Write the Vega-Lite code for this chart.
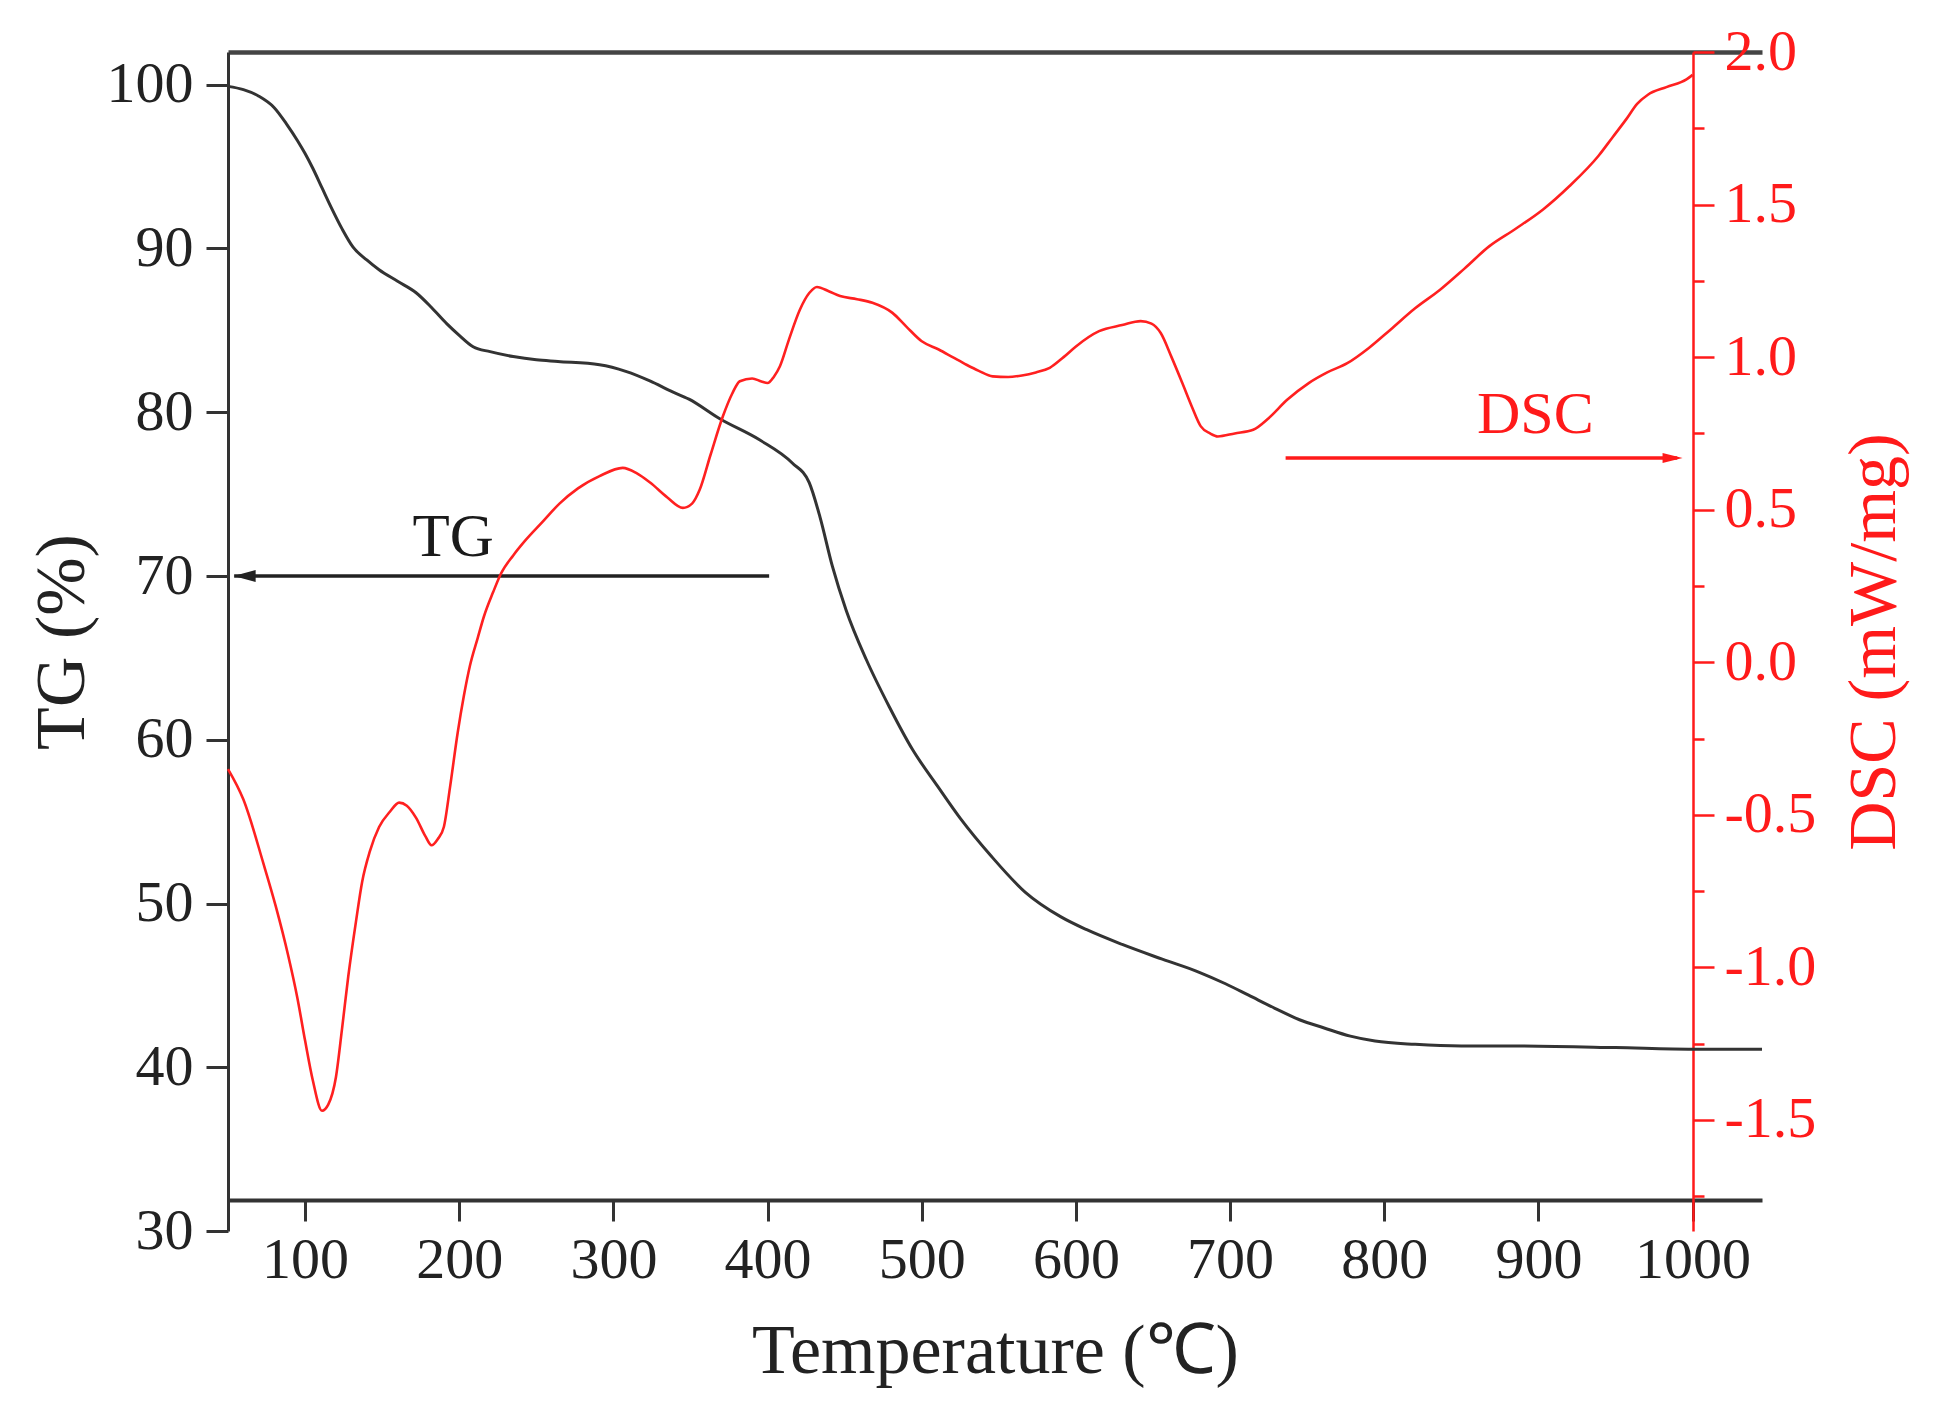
{
  "$schema": "https://vega.github.io/schema/vega-lite/v6.json",
  "autosize": {"type": "none"},
  "padding": {"left": 228, "top": 52, "right": 197, "bottom": 193},
  "width": 1534,
  "height": 1179,
  "background": "white",
  "config": {
    "view": {"stroke": null},
    "font": "Liberation Serif",
    "axis": {
      "grid": false,
      "labelFont": "Liberation Serif",
      "titleFont": "Liberation Serif",
      "titleFontWeight": "normal",
      "labelFlush": false,
      "labelOverlap": false,
      "labelBound": false
    }
  },
  "datasets": {
    "tg": [
      {"T": 50, "TG": 99.9}, {"T": 60, "TG": 99.7}, {"T": 70, "TG": 99.3}, {"T": 80, "TG": 98.6},
      {"T": 88, "TG": 97.6}, {"T": 95, "TG": 96.6}, {"T": 100, "TG": 95.8}, {"T": 105, "TG": 94.9},
      {"T": 111, "TG": 93.7}, {"T": 117, "TG": 92.5}, {"T": 124, "TG": 91.2}, {"T": 131, "TG": 90.1},
      {"T": 140, "TG": 89.3}, {"T": 148, "TG": 88.7},
      {"T": 160, "TG": 88.0}, {"T": 172, "TG": 87.3}, {"T": 182, "TG": 86.4}, {"T": 192, "TG": 85.4},
      {"T": 200, "TG": 84.7}, {"T": 209, "TG": 84.0}, {"T": 220, "TG": 83.7}, {"T": 235, "TG": 83.4},
      {"T": 250, "TG": 83.2}, {"T": 264, "TG": 83.1}, {"T": 291, "TG": 82.9}, {"T": 308, "TG": 82.5},
      {"T": 324, "TG": 81.9}, {"T": 337, "TG": 81.3}, {"T": 349, "TG": 80.8}, {"T": 369, "TG": 79.6},
      {"T": 395, "TG": 78.3}, {"T": 416, "TG": 76.9}, {"T": 427, "TG": 75.7}, {"T": 434, "TG": 73.6},
      {"T": 442, "TG": 70.6}, {"T": 451, "TG": 67.9}, {"T": 464, "TG": 64.9}, {"T": 479, "TG": 62.0},
      {"T": 494, "TG": 59.4}, {"T": 510, "TG": 57.2}, {"T": 525, "TG": 55.2}, {"T": 545, "TG": 52.9},
      {"T": 567, "TG": 50.7}, {"T": 590, "TG": 49.2}, {"T": 607, "TG": 48.4}, {"T": 630, "TG": 47.5},
      {"T": 656, "TG": 46.6}, {"T": 680, "TG": 45.8}, {"T": 697, "TG": 45.1}, {"T": 712, "TG": 44.4},
      {"T": 729, "TG": 43.6}, {"T": 745, "TG": 42.9}, {"T": 761, "TG": 42.4}, {"T": 778, "TG": 41.9},
      {"T": 794, "TG": 41.6}, {"T": 820, "TG": 41.4}, {"T": 850, "TG": 41.3}, {"T": 875, "TG": 41.3},
      {"T": 950, "TG": 41.2}, {"T": 1000, "TG": 41.1}, {"T": 1045, "TG": 41.1}
    ],
    "dsc": [
      {"T": 50, "DSC": -0.35}, {"T": 60, "DSC": -0.45}, {"T": 73, "DSC": -0.66}, {"T": 81, "DSC": -0.8},
      {"T": 89, "DSC": -0.96}, {"T": 95, "DSC": -1.1}, {"T": 100, "DSC": -1.24}, {"T": 105, "DSC": -1.37},
      {"T": 111, "DSC": -1.47}, {"T": 115, "DSC": -1.45}, {"T": 120, "DSC": -1.36}, {"T": 124, "DSC": -1.2},
      {"T": 128, "DSC": -1.03}, {"T": 133, "DSC": -0.85}, {"T": 137, "DSC": -0.72}, {"T": 142, "DSC": -0.62},
      {"T": 148, "DSC": -0.54}, {"T": 155, "DSC": -0.49}, {"T": 161, "DSC": -0.46}, {"T": 166, "DSC": -0.47},
      {"T": 172, "DSC": -0.51}, {"T": 178, "DSC": -0.57}, {"T": 182, "DSC": -0.6}, {"T": 186, "DSC": -0.58},
      {"T": 190, "DSC": -0.54}, {"T": 194, "DSC": -0.41}, {"T": 199, "DSC": -0.23}, {"T": 203, "DSC": -0.11},
      {"T": 207, "DSC": -0.01}, {"T": 212, "DSC": 0.08}, {"T": 216, "DSC": 0.15}, {"T": 222, "DSC": 0.23},
      {"T": 227, "DSC": 0.29}, {"T": 235, "DSC": 0.35}, {"T": 243, "DSC": 0.4}, {"T": 254, "DSC": 0.46},
      {"T": 265, "DSC": 0.52}, {"T": 277, "DSC": 0.57}, {"T": 291, "DSC": 0.61}, {"T": 306, "DSC": 0.637},
      {"T": 315, "DSC": 0.62}, {"T": 324, "DSC": 0.588}, {"T": 335, "DSC": 0.54}, {"T": 345, "DSC": 0.506},
      {"T": 351, "DSC": 0.52}, {"T": 356, "DSC": 0.566}, {"T": 363, "DSC": 0.68}, {"T": 371, "DSC": 0.806},
      {"T": 377, "DSC": 0.88}, {"T": 382, "DSC": 0.921}, {"T": 390, "DSC": 0.93}, {"T": 396, "DSC": 0.92},
      {"T": 400, "DSC": 0.915}, {"T": 404, "DSC": 0.935}, {"T": 408, "DSC": 0.97}, {"T": 414, "DSC": 1.06},
      {"T": 421, "DSC": 1.156}, {"T": 427, "DSC": 1.21}, {"T": 432, "DSC": 1.23}, {"T": 440, "DSC": 1.215},
      {"T": 447, "DSC": 1.2}, {"T": 458, "DSC": 1.19}, {"T": 468, "DSC": 1.178}, {"T": 481, "DSC": 1.145},
      {"T": 490, "DSC": 1.1}, {"T": 500, "DSC": 1.052}, {"T": 511, "DSC": 1.025}, {"T": 520, "DSC": 1.0},
      {"T": 529, "DSC": 0.975}, {"T": 537, "DSC": 0.955}, {"T": 546, "DSC": 0.937}, {"T": 556, "DSC": 0.935},
      {"T": 565, "DSC": 0.94}, {"T": 574, "DSC": 0.95}, {"T": 583, "DSC": 0.965}, {"T": 592, "DSC": 1.0},
      {"T": 600, "DSC": 1.035}, {"T": 615, "DSC": 1.085}, {"T": 630, "DSC": 1.105}, {"T": 642, "DSC": 1.118},
      {"T": 649, "DSC": 1.11}, {"T": 655, "DSC": 1.079}, {"T": 662, "DSC": 1.0}, {"T": 669, "DSC": 0.915},
      {"T": 675, "DSC": 0.84}, {"T": 681, "DSC": 0.773}, {"T": 687, "DSC": 0.75}, {"T": 692, "DSC": 0.74},
      {"T": 703, "DSC": 0.75}, {"T": 715, "DSC": 0.762}, {"T": 725, "DSC": 0.8}, {"T": 737, "DSC": 0.86},
      {"T": 751, "DSC": 0.915}, {"T": 763, "DSC": 0.95}, {"T": 776, "DSC": 0.98}, {"T": 790, "DSC": 1.03},
      {"T": 804, "DSC": 1.09}, {"T": 820, "DSC": 1.16}, {"T": 836, "DSC": 1.22}, {"T": 852, "DSC": 1.29},
      {"T": 868, "DSC": 1.363}, {"T": 885, "DSC": 1.42}, {"T": 903, "DSC": 1.484}, {"T": 920, "DSC": 1.56},
      {"T": 939, "DSC": 1.66}, {"T": 948, "DSC": 1.72}, {"T": 957, "DSC": 1.78}, {"T": 964, "DSC": 1.83},
      {"T": 971, "DSC": 1.86}, {"T": 983, "DSC": 1.885}, {"T": 996, "DSC": 1.91}, {"T": 1000, "DSC": 1.925}
    ],
    "tgArrow": [{"T": 54, "T2": 401, "TG": 70}],
    "tgHead": [{"T": 60.8, "TG": 70}],
    "tgLabel": [{"T": 196, "TG": 72.3, "label": "TG"}],
    "dscArrow": [{"T": 736, "T2": 990, "DSC": 0.669}],
    "dscHead": [{"T": 987, "DSC": 0.669}],
    "dscLabel": [{"T": 898, "DSC": 0.811, "label": "DSC"}]
  },
  "layer": [
    {
      "encoding": {
        "x": {
          "field": "T", "type": "quantitative",
          "scale": {"domain": [50, 1045], "nice": false, "zero": false},
          "axis": {
            "orient": "bottom", "offset": -31,
            "values": [100, 200, 300, 400, 500, 600, 700, 800, 900, 1000],
            "format": "d",
            "labelFontSize": 58, "labelColor": "#222222", "labelPadding": 10,
            "tickSize": 21, "tickWidth": 3, "tickColor": "#333333",
            "domainColor": "#333333", "domainWidth": 4,
            "title": "Temperature (℃)", "titleFontSize": 70, "titleColor": "#222222", "titlePadding": 28
          }
        },
        "y": {
          "field": "TG", "type": "quantitative",
          "scale": {"domain": [30, 102], "nice": false, "zero": false},
          "axis": {
            "orient": "left",
            "values": [30, 40, 50, 60, 70, 80, 90, 100],
            "labelFontSize": 58, "labelColor": "#222222", "labelPadding": 13,
            "tickSize": 22, "tickWidth": 3, "tickColor": "#333333",
            "domainColor": "#333333", "domainWidth": 3,
            "title": "TG (%)", "titleFontSize": 70, "titleColor": "#222222", "titlePadding": 8
          }
        }
      },
      "layer": [
        {"data": {"name": "tg"}, "mark": {"type": "line", "color": "#333333", "strokeWidth": 3, "interpolate": "monotone"}},
        {"data": {"name": "tgArrow"}, "mark": {"type": "rule", "color": "#222222", "strokeWidth": 3.3}, "encoding": {"x2": {"field": "T2"}}},
        {"data": {"name": "tgHead"}, "mark": {"type": "point", "shape": "M -1 0 L 1 -0.55 L 1 0.55 Z", "size": 484, "filled": true, "color": "#222222", "opacity": 1}},
        {"data": {"name": "tgLabel"}, "mark": {"type": "text", "fontSize": 61, "font": "Liberation Serif", "color": "#1a1a1a"}, "encoding": {"text": {"field": "label"}}}
      ]
    },
    {
      "encoding": {
        "x": {
          "field": "T", "type": "quantitative",
          "scale": {"domain": [50, 1045], "nice": false, "zero": false},
          "axis": {
            "orient": "top", "labels": false, "ticks": false, "title": null,
            "domainColor": "#444444", "domainWidth": 4.5
          }
        },
        "y": {
          "field": "DSC", "type": "quantitative",
          "scale": {"domain": [-1.864, 2.0], "nice": false, "zero": false},
          "axis": {
            "orient": "right", "offset": -69,
            "values": [-1.75, -1.5, -1.25, -1.0, -0.75, -0.5, -0.25, 0, 0.25, 0.5, 0.75, 1.0, 1.25, 1.5, 1.75, 2.0],
            "labelExpr": "abs(datum.value * 2 - round(datum.value * 2)) < 0.01 ? replace(format(datum.value, '.1f'), '−', '-') : ''",
            "labelFontSize": 58, "labelColor": "#ff1a1a", "labelPadding": 10,
            "tickSize": {"condition": {"test": "abs(datum.value * 2 - round(datum.value * 2)) < 0.01", "value": 21}, "value": 11},
            "tickWidth": 2.5, "tickColor": "#ff1a1a",
            "domainColor": "#ff1a1a", "domainWidth": 2.5,
            "title": "DSC (mW/mg)", "titleFontSize": 68, "titleColor": "#ff1a1a", "titleAngle": 270, "titlePadding": 93
          }
        }
      },
      "layer": [
        {"data": {"name": "dsc"}, "mark": {"type": "line", "color": "#ff2020", "strokeWidth": 2.6, "interpolate": "monotone"}},
        {"data": {"name": "dscArrow"}, "mark": {"type": "rule", "color": "#ff1a1a", "strokeWidth": 3.5}, "encoding": {"x2": {"field": "T2"}}},
        {"data": {"name": "dscHead"}, "mark": {"type": "point", "shape": "M 1 0 L -1 -0.5 L -1 0.5 Z", "size": 400, "filled": true, "color": "#ff1a1a", "opacity": 1}},
        {"data": {"name": "dscLabel"}, "mark": {"type": "text", "fontSize": 60, "font": "Liberation Serif", "color": "#ff1a1a"}, "encoding": {"text": {"field": "label"}}}
      ]
    }
  ],
  "resolve": {"scale": {"x": "independent", "y": "independent"}}
}
